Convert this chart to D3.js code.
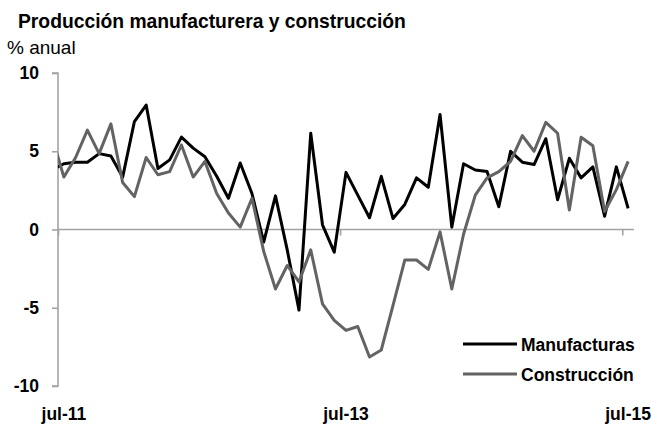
<!DOCTYPE html>
<html>
<head>
<meta charset="utf-8">
<script src="https://cdn.jsdelivr.net/npm/d3@7"></script>
<style>
  body { margin: 0; background: #fff; }
  svg text { font-family: "Liberation Sans", Arial, sans-serif; fill: #000; }
</style>
</head>
<body>
<div class="wrapper"></div>
<script>
// monthly categories (jun-11 sits just left of the axis and is clipped)
const months = [
    "jun-11", "jul-11", "ago-11", "sep-11", "oct-11", "nov-11", "dic-11",
    "ene-12", "feb-12", "mar-12", "abr-12", "may-12", "jun-12",
    "jul-12", "ago-12", "sep-12", "oct-12", "nov-12", "dic-12",
    "ene-13", "feb-13", "mar-13", "abr-13", "may-13", "jun-13",
    "jul-13", "ago-13", "sep-13", "oct-13", "nov-13", "dic-13",
    "ene-14", "feb-14", "mar-14", "abr-14", "may-14", "jun-14",
    "jul-14", "ago-14", "sep-14", "oct-14", "nov-14", "dic-14",
    "ene-15", "feb-15", "mar-15", "abr-15", "may-15", "jun-15",
    "jul-15"
]
const manufacturas = [
    3.8, 4.2, 4.3, 4.3, 4.85, 4.7, 3.35, 6.9, 7.95, 3.9,
    4.45, 5.9, 5.2, 4.65, 3.4, 2.0, 4.25, 2.3, -0.8, 2.15,
    -1.3, -5.15, 6.15, 0.3, -1.45, 3.65, 2.2, 0.75, 3.4, 0.7,
    1.6, 3.3, 2.7, 7.35, 0.15, 4.2, 3.8, 3.7, 1.45, 5.0,
    4.3, 4.15, 5.8, 1.9, 4.55, 3.3, 4.0, 0.85, 4.0, 1.35
]
const construccion = [
    5.9, 3.35, 4.6, 6.35, 4.85, 6.75, 3.0, 2.1, 4.6, 3.5,
    3.7, 5.4, 3.35, 4.35, 2.3, 1.05, 0.15, 2.0, -1.4, -3.8,
    -2.3, -3.35, -1.3, -4.75, -5.8, -6.45, -6.2, -8.15, -7.7, -4.85,
    -1.95, -1.95, -2.55, -0.15, -3.8, -0.3, 2.2, 3.3, 3.7, 4.35,
    6.0, 5.0, 6.85, 6.15, 1.25, 5.9, 5.35, 1.15, 2.55, 4.35
]
const yTicks = [-10, -5, 0, 5, 10]
const xTickLabels = ["jul-11", "jul-13", "jul-15"]
const seriesNames = ["Manufacturas", "Construcción"]
const seriesColors = ["#000000", "#636363"]

const dimensions = {
    width: 651,
    height: 426,
    margin: { top: 73, right: 17, bottom: 40, left: 58 },
}
dimensions.boundedWidth = dimensions.width - dimensions.margin.left - dimensions.margin.right
dimensions.boundedHeight = dimensions.height - dimensions.margin.top - dimensions.margin.bottom

// index of each month; jul-11 is index 0, categories sit between tick marks
const firstIdx = months.indexOf("jul-11")
const lastIdx = months.indexOf("jul-15")
const indexOf = m => months.indexOf(m) - firstIdx

const xScale = d3.scaleLinear()
    .domain([-0.5, lastIdx - firstIdx + 0.5])
    .range([0, dimensions.boundedWidth])
const yScale = d3.scaleLinear()
    .domain([-10, 10])
    .range([dimensions.boundedHeight, 0])

const wrapper = d3.select(".wrapper")
    .append("svg")
    .attr("width", dimensions.width)
    .attr("height", dimensions.height)

wrapper.append("text")
    .attr("x", 18)
    .attr("y", 28)
    .style("font-size", "19.3px")
    .style("font-weight", "bold")
    .text("Producción manufacturera y construcción")

wrapper.append("text")
    .attr("x", 7)
    .attr("y", 54)
    .style("font-size", "19px")
    .text("% anual")

const bounds = wrapper.append("g")
    .attr("transform", `translate(${dimensions.margin.left}, ${dimensions.margin.top})`)

bounds.append("defs").append("clipPath")
    .attr("id", "plot-clip")
    .append("rect")
    .attr("width", dimensions.boundedWidth)
    .attr("height", dimensions.boundedHeight)

const axisColor = "#a3a3a3"

// y axis
const yAxis = bounds.append("g")
    .call(d3.axisLeft(yScale)
        .tickValues(yTicks)
        .tickSize(6)
        .tickPadding(13)
        .tickFormat(d => String(d)))
yAxis.select(".domain").attr("stroke", axisColor).attr("stroke-width", 1.6)
    .attr("d", `M-6,${yScale(10)}H0V${yScale(-10)}H-6`)
yAxis.selectAll(".tick line").attr("stroke", axisColor).attr("stroke-width", 1.6)
yAxis.selectAll(".tick text")
    .style("font-family", "'Liberation Sans', Arial, sans-serif")
    .style("font-size", "17.5px")
    .style("font-weight", "bold")
    .attr("fill", "#000")

// x axis on the zero line, ticks at category boundaries every 24 months
const xAxis = bounds.append("g")
    .attr("transform", `translate(0, ${yScale(0)})`)
    .call(d3.axisBottom(xScale)
        .tickValues(xTickLabels.map(m => indexOf(m) - 0.5))
        .tickSize(6)
        .tickFormat(""))
xAxis.select(".domain").attr("stroke", axisColor).attr("stroke-width", 1.6)
    .attr("d", `M0,0H${dimensions.boundedWidth}`)
xAxis.selectAll(".tick line").attr("stroke", axisColor).attr("stroke-width", 1.6)

// month labels centred in their category, at the bottom
bounds.selectAll(".x-label")
    .data(xTickLabels)
    .enter().append("text")
    .attr("class", "x-label")
    .attr("x", d => xScale(indexOf(d)))
    .attr("y", dimensions.boundedHeight + 34)
    .attr("text-anchor", "middle")
    .style("font-size", "17.5px")
    .style("font-weight", "bold")
    .text(d => d)

const lineGenerator = d3.line()
    .x((d, i) => xScale(i - firstIdx))
    .y(d => yScale(d))

const lines = bounds.append("g").attr("clip-path", "url(#plot-clip)")
;[manufacturas, construccion].forEach((values, i) => {
    lines.append("path")
        .attr("d", lineGenerator(values))
        .attr("fill", "none")
        .attr("stroke", seriesColors[i])
        .attr("stroke-width", 3)
        .attr("stroke-linejoin", "round")
})

// legend
const legend = wrapper.append("g")
    .attr("transform", "translate(463, 344)")
seriesNames.forEach((name, i) => {
    legend.append("line")
        .attr("x1", 0).attr("x2", 54)
        .attr("y1", i * 30).attr("y2", i * 30)
        .attr("stroke", seriesColors[i])
        .attr("stroke-width", 3)
    legend.append("text")
        .attr("x", 58)
        .attr("y", i * 30 + 6.5)
        .style("font-size", "17.5px")
        .style("font-weight", "bold")
        .text(name)
})
</script>
</body>
</html>
